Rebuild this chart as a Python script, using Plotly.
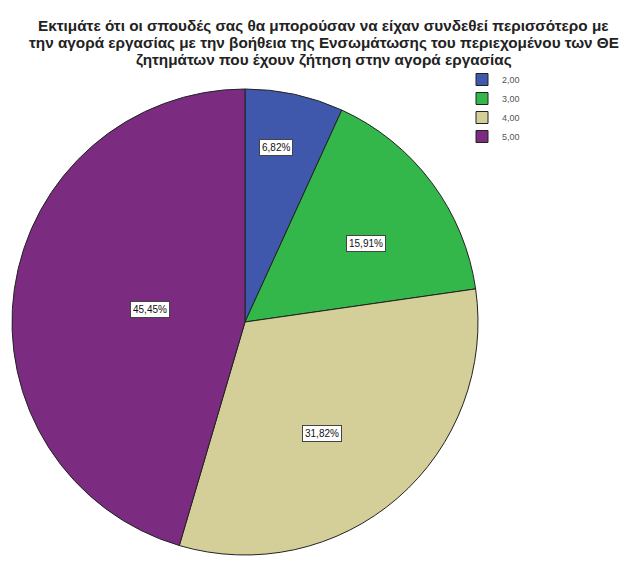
import math
import plotly.graph_objects as go

title_lines = [
    "Εκτιμάτε ότι οι σπουδές σας θα μπορούσαν να είχαν συνδεθεί περισσότερο με",
    "την αγορά εργασίας με την βοήθεια της Ενσωμάτωσης του περιεχομένου των ΘΕ",
    "ζητημάτων που έχουν ζήτηση στην αγορά εργασίας",
]
categories = ["2,00", "3,00", "4,00", "5,00"]
percents = [6.82, 15.91, 31.82, 45.45]
colors = ["#3F58AB", "#33B74A", "#D4CF98", "#7B2B80"]

W, H = 631, 575
cx, cy, diam = 245, 321, 466
# small empirical correction for plotly's pie placement
dcx, dcy = cx - 8, cy - 7
dom_x = [(dcx - diam / 2) / W, (dcx + diam / 2) / W]
dom_y = [1 - (dcy + diam / 2) / H, 1 - (dcy - diam / 2) / H]

fig = go.Figure(go.Pie(
    labels=categories,
    values=percents,
    sort=False,
    direction="clockwise",
    rotation=0,
    marker=dict(colors=colors, line=dict(color="#222222", width=1)),
    textinfo="none",
    hoverinfo="label+percent",
    domain=dict(x=dom_x, y=dom_y),
))

# label boxes: radial fraction and angular nudge (degrees) per slice (styling)
radial = [0.787, 0.607, 0.536, 0.449]
nudge = [-5.1, -0.2, 7.3, 2.3]
total = sum(percents)
cum = 0.0
for v, rf, dn in zip(percents, radial, nudge):
    mid = (cum + v / 2) / total * 2 * math.pi + math.radians(dn)
    cum += v
    r = rf * diam / 2
    px = cx + r * math.sin(mid)
    py = cy - r * math.cos(mid)
    fig.add_annotation(
        x=px / W, y=1 - py / H, xref="paper", yref="paper",
        xanchor="center", yanchor="middle",
        text=f"{v:.2f}%".replace(".", ","), showarrow=False,
        font=dict(family="Liberation Sans, Arial", size=10, color="#111111"),
        bgcolor="white", bordercolor="#444444", borderwidth=1, borderpad=2,
    )

# title, one line per annotation for tight line spacing
for i, line in enumerate(title_lines):
    fig.add_annotation(
        x=0.5, y=1 - (18 + 17 * i) / H, xref="paper", yref="paper",
        xanchor="center", yanchor="middle", showarrow=False,
        text=f"<b>{line}</b>",
        font=dict(family="Liberation Sans, Arial", size=15.3, color="#222222"),
    )

fig.update_layout(
    width=W, height=H,
    margin=dict(l=0, r=0, t=0, b=0),
    paper_bgcolor="white",
    legend=dict(
        x=454 / W, y=1 - 57 / H, xanchor="left", yanchor="top",
        font=dict(family="Liberation Sans, Arial", size=9, color="#555555"),
        itemwidth=30, tracegroupgap=0, bgcolor="rgba(0,0,0,0)",
    ),
    showlegend=True,
)

fig.write_html("out.html")
